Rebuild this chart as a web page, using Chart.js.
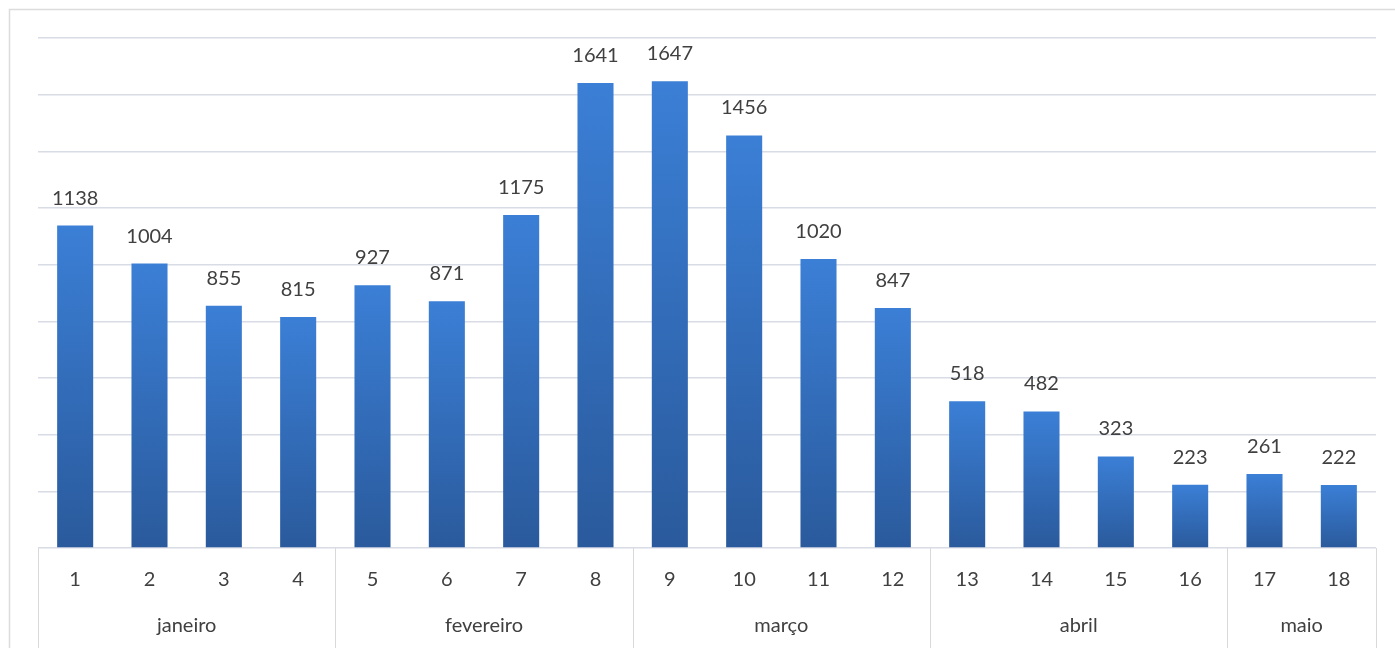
<!DOCTYPE html>
<html lang="pt">
<head>
<meta charset="UTF-8">
<title>Gráfico</title>
<script src="https://cdn.jsdelivr.net/npm/chart.js@4.4.0/dist/chart.umd.min.js"></script>
<style>
  * { margin: 0; padding: 0; box-sizing: border-box; }
  body { width: 1395px; height: 648px; background: #fff; overflow: hidden; }
  #wrap { position: relative; width: 1395px; height: 648px; }
</style>
</head>
<body>
<div id="wrap"><canvas id="c" width="1395" height="648"></canvas></div>
<script>
// dados
const weeks = ['1','2','3','4','5','6','7','8','9','10','11','12','13','14','15','16','17','18'];
const values = [1138, 1004, 855, 815, 927, 871, 1175, 1641, 1647, 1456, 1020, 847, 518, 482, 323, 223, 261, 222];
const months = ['janeiro', 'fevereiro', 'março', 'abril', 'maio'];
const monthSpans = [4, 4, 4, 4, 2];
const yMax = 1800;
const yStep = 200;

const FONT = 'Lato, "Open Sans", sans-serif';
const TEXT = '#404040';
const LINE = '#d9d9d9';

// gradiente por barra (topo mais claro)
function barGradient(ctx) {
  const chart = ctx.chart;
  const y = chart.scales.y;
  if (!chart.chartArea || !y || ctx.parsed == null) return '#3572c6';
  const top = y.getPixelForValue(ctx.parsed.y);
  const base = y.getPixelForValue(0);
  const g = chart.ctx.createLinearGradient(0, top, 0, base);
  g.addColorStop(0, '#3b7fd6');
  g.addColorStop(1, '#2a5a9c');
  return g;
}

// moldura, separadores de mês, rótulos de mês e valores
const extras = {
  id: 'extras',
  beforeDraw(chart) {
    const c = chart.ctx;
    c.save();
    c.strokeStyle = '#dcdcdc';
    c.lineWidth = 1.5;
    c.beginPath();
    c.moveTo(9.5, 648); c.lineTo(9.5, 9.5); c.lineTo(1395, 9.5);
    c.stroke();
    c.restore();
  },
  afterDraw(chart) {
    const c = chart.ctx;
    const x = chart.scales.x;
    const area = chart.chartArea;
    const half = (x.getPixelForValue(1) - x.getPixelForValue(0)) / 2;
    c.save();
    // separadores
    c.strokeStyle = LINE;
    c.lineWidth = 1;
    let idx = 0;
    const bounds = [x.getPixelForValue(0) - half];
    monthSpans.forEach(s => { idx += s; bounds.push(x.getPixelForValue(idx - 1) + half); });
    c.beginPath();
    bounds.forEach(b => { const px = Math.round(b) + 0.5; c.moveTo(px, area.bottom); c.lineTo(px, 648); });
    c.stroke();
    // meses
    c.fillStyle = TEXT;
    c.font = '20px ' + FONT;
    c.textAlign = 'center';
    c.textBaseline = 'alphabetic';
    months.forEach((m, i) => {
      c.fillText(m, (bounds[i] + bounds[i + 1]) / 2, 632);
    });
    // valores
    c.font = '20px ' + FONT;
    chart.getDatasetMeta(0).data.forEach((bar, i) => {
      c.fillText(String(values[i]), bar.x, bar.y - 21);
    });
    c.restore();
  }
};

new Chart(document.getElementById('c'), {
  type: 'bar',
  data: {
    labels: weeks,
    datasets: [{
      data: values,
      backgroundColor: barGradient,
      barPercentage: 0.485,
      categoryPercentage: 1.0,
      borderWidth: 0,
    }]
  },
  options: {
    responsive: false,
    animation: false,
    events: [],
    layout: { padding: { left: 38, right: 19, top: 38, bottom: 0 } },
    plugins: { legend: { display: false }, tooltip: { enabled: false }, title: { display: false } },
    scales: {
      x: {
        grid: { display: false, drawTicks: false },
        border: { display: false },
        ticks: { color: TEXT, font: { family: FONT, size: 20 }, padding: 20, maxRotation: 0, autoSkip: false },
        afterFit(s) { s.height = 100; }
      },
      y: {
        min: 0, max: yMax,
        ticks: { display: false, stepSize: yStep },
        grid: { color: '#d8dce5', lineWidth: 1.5, drawTicks: false },
        border: { display: false },
        afterFit(s) { s.width = 0; }
      }
    }
  },
  plugins: [extras]
});
</script>
</body>
</html>
